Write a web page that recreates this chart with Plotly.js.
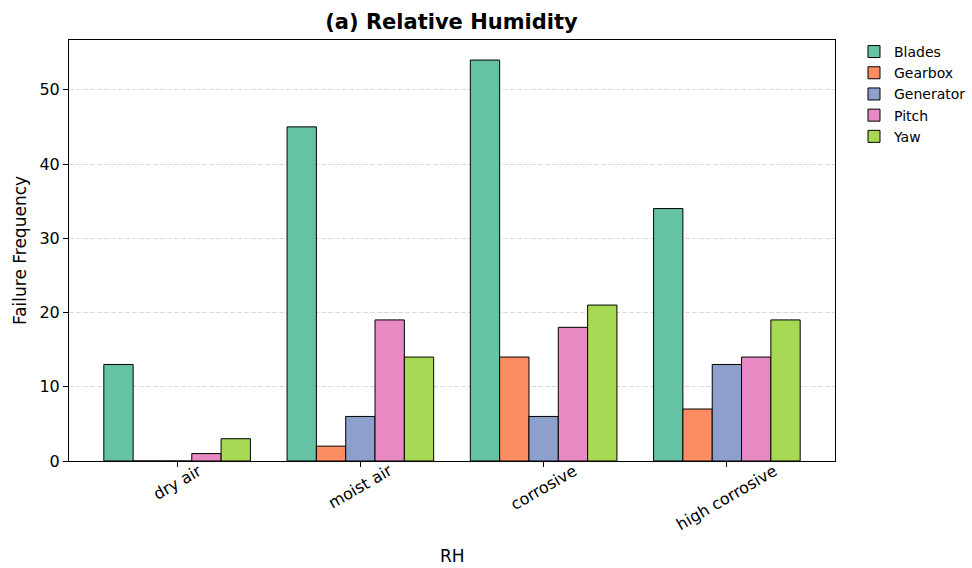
<!DOCTYPE html>
<html>
<head>
<meta charset="utf-8">
<script src="https://cdn.plot.ly/plotly-3.0.1.min.js"></script>
<style>html,body{margin:0;padding:0;background:#fff;}#chart{width:972px;height:568px;}</style>
</head>
<body>
<div id="chart"></div>
<script>
const categories = ["dry air", "moist air", "corrosive", "high corrosive"];
const seriesNames = ["Blades", "Gearbox", "Generator", "Pitch", "Yaw"];
const blades = [13, 45, 54, 34];
const gearbox = [0, 2, 14, 7];
const generator = [0, 6, 6, 13];
const pitch = [1, 19, 18, 14];
const yaw = [3, 14, 21, 19];
const colors = ["#66c2a5", "#fc8d62", "#8da0cb", "#e78ac3", "#a6d854"];
const yTicks = [0, 10, 20, 30, 40, 50];

const values = [blades, gearbox, generator, pitch, yaw];
const font = "DejaVu Sans, sans-serif";

const traces = seriesNames.map((name, i) => ({
  type: "bar",
  name: name,
  x: categories,
  y: values[i],
  marker: { color: colors[i], line: { color: "#000", width: 1 } },
  hoverinfo: "x+y+name"
}));

const annotations = categories.map(c => ({
  x: c, xref: "x", y: 0, yref: "paper",
  text: c, showarrow: false, textangle: -30,
  xanchor: "center", yanchor: "top", yshift: 3,
  font: { family: font, size: 16, color: "#000" }
}));
annotations.push({
  x: 0.5, xref: "paper", y: 0, yref: "paper", yshift: -95,
  text: "RH", showarrow: false, xanchor: "center", yanchor: "middle",
  font: { family: font, size: 17, color: "#000" }
});

const layout = {
  width: 972, height: 568,
  margin: { l: 69, r: 137, t: 40, b: 107 },
  paper_bgcolor: "#fff", plot_bgcolor: "#fff",
  font: { family: font, color: "#000" },
  title: { text: "<b>(a) Relative Humidity</b>", font: { family: font, size: 21, color: "#000" }, x: 0.4645, xanchor: "center", y: 0.974, yanchor: "top" },
  barmode: "group", bargap: 0.2, bargroupgap: 0,
  xaxis: {
    type: "category", range: [-0.59, 3.59],
    showticklabels: false, ticks: "outside", ticklen: 5, tickcolor: "#000",
    showline: true, linecolor: "#000", linewidth: 1, mirror: true,
    showgrid: false, zeroline: false
  },
  yaxis: {
    range: [0, 56.7], tickvals: yTicks, ticks: "outside", ticklen: 5, tickcolor: "#000",
    tickfont: { family: font, size: 16, color: "#000" },
    showline: true, linecolor: "#000", linewidth: 1, mirror: true,
    showgrid: true, gridcolor: "#dadada", griddash: "5px,2px", gridwidth: 1, zeroline: false,
    title: { text: "Failure Frequency", font: { family: font, size: 17, color: "#000" }, standoff: 8 }
  },
  legend: {
    xref: "container", yref: "container",
    x: 0.8786, xanchor: "left", y: 0.9367, yanchor: "top",
    font: { family: font, size: 14, color: "#000" },
    bgcolor: "rgba(255,255,255,0)", tracegroupgap: 0, itemwidth: 30
  },
  annotations: annotations,
  showlegend: true
};

Plotly.newPlot("chart", traces, layout, { displayModeBar: false, staticPlot: true });
</script>
</body>
</html>
